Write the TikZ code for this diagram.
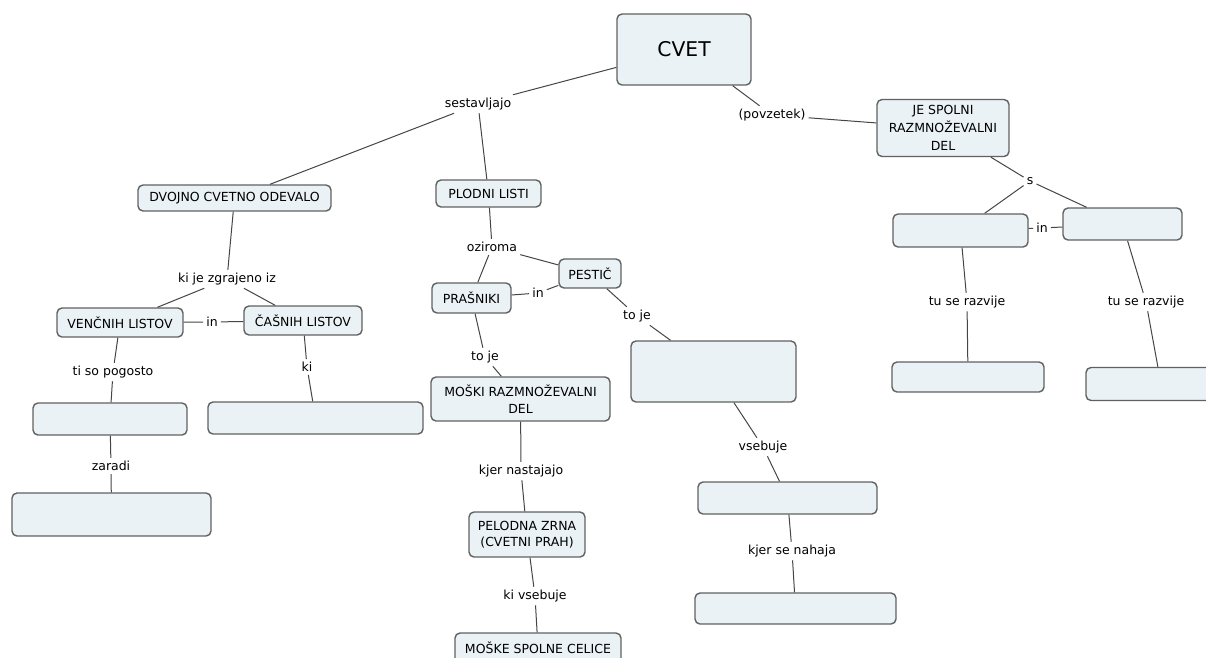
\documentclass[tikz,border=0pt]{standalone}
\usepackage{fontspec}
\setmainfont{DejaVu Sans}
\usepackage{tikz}

\definecolor{boxfill}{HTML}{EAF2F5}
\definecolor{boxline}{HTML}{616161}
\definecolor{linkline}{HTML}{454545}

\begin{document}
\begin{tikzpicture}[x=1pt,y=-1pt,
  concept/.style={draw=boxline,fill=boxfill,rounded corners=5pt,line width=1.4pt,align=center,inner sep=0,
    font=\fontsize{12.5}{16.5}\selectfont},
  link/.style={inner sep=3pt,font=\fontsize{12.5}{15}\selectfont},
  conn/.style={draw=linkline,line width=1pt}]
        \useasboundingbox (0,0) rectangle (1206,657);
        \clip (0,0) rectangle (1206,657);
        % glavni pojem
        \node[concept,minimum width=134pt,minimum height=71pt,font=\fontsize{20.3}{24}\selectfont] (cvet) at (684,49.5) {CVET};
        \node[link] (sestavljajo) at (478,104) {sestavljajo};
        \node[link] (povzetek) at (772,115) {(povzetek)};
        \node[concept,minimum width=132pt,minimum height=57pt,font=\fontsize{12.5}{18}\selectfont] (spolni) at (943,128) {JE SPOLNI\\RAZMNOŽEVALNI\\DEL};
        % desna veja
        \node[link] (s) at (1030,181) {s};
        \node[concept,minimum width=135pt,minimum height=33pt] (r1) at (960.5,230.5) {};
        \node[link] (inr) at (1042,228) {in};
        \node[concept,minimum width=119pt,minimum height=32pt] (r2) at (1122.5,224) {};
        \node[link] (razvije1) at (967,302) {tu se razvije};
        \node[link] (razvije2) at (1146,302) {tu se razvije};
        \node[concept,minimum width=152pt,minimum height=30pt] (r3) at (968,377) {};
        \node[concept,minimum width=150pt,minimum height=33pt] (r4) at (1161,384) {};
        % cvetno odevalo
        \node[concept,minimum width=193pt,minimum height=26pt] (dvojno) at (234.5,198) {DVOJNO CVETNO ODEVALO};
        \node[link] (zgrajeno) at (227,279) {ki je zgrajeno iz};
        \node[concept,minimum width=126pt,minimum height=29pt] (vencni) at (120,322.5) {VENČNIH LISTOV};
        \node[link] (inl) at (212,322) {in};
        \node[concept,minimum width=118pt,minimum height=29pt] (casni) at (303,320.5) {ČAŠNIH LISTOV};
        \node[link] (pogosto) at (113,372) {ti so pogosto};
        \node[link] (ki) at (307,367) {ki};
        \node[concept,minimum width=154pt,minimum height=32pt] (e1) at (110,419) {};
        \node[concept,minimum width=215pt,minimum height=32pt] (e2) at (315.5,418) {};
        \node[link] (zaradi) at (111,466) {zaradi};
        \node[concept,minimum width=199pt,minimum height=43pt] (e3) at (111.5,514.5) {};
        % plodni listi
        \node[concept,minimum width=105pt,minimum height=27pt] (plodni) at (488.5,193.5) {PLODNI LISTI};
        \node[link] (oziroma) at (492,247) {oziroma};
        \node[concept,minimum width=62pt,minimum height=29pt] (pestic) at (590,273.5) {PESTIČ};
        \node[concept,minimum width=79pt,minimum height=30pt] (prasniki) at (471.5,298) {PRAŠNIKI};
        \node[link] (inm) at (538,293) {in};
        \node[link] (toje1) at (637,316) {to je};
        \node[link] (toje2) at (485,357) {to je};
        \node[concept,minimum width=179pt,minimum height=44pt] (moski) at (520.5,399) {MOŠKI RAZMNOŽEVALNI\\DEL};
        \node[concept,minimum width=165pt,minimum height=61pt] (zenski) at (713.5,371.5) {};
        \node[link] (vsebuje) at (763,447) {vsebuje};
        \node[link] (nastajajo) at (521,471) {kjer nastajajo};
        \node[concept,minimum width=116pt,minimum height=45pt] (pelod) at (527,534.5) {PELODNA ZRNA\\(CVETNI PRAH)};
        \node[link] (kivsebuje) at (535,596) {ki vsebuje};
        \node[concept,minimum width=166pt,minimum height=30pt] (celice) at (538,648) {MOŠKE SPOLNE CELICE};
        \node[concept,minimum width=179pt,minimum height=32pt] (v1) at (787.5,498) {};
        \node[link] (nahaja) at (792,551) {kjer se nahaja};
        \node[concept,minimum width=201pt,minimum height=31pt] (v2) at (795.5,608.5) {};

        \draw[conn] (cvet) -- (sestavljajo) (sestavljajo) -- (dvojno) (sestavljajo) -- (plodni);
        \draw[conn] (cvet) -- (povzetek) (povzetek) -- (spolni);
        \draw[conn] (spolni) -- (s) (s) -- (r1) (s) -- (r2) (r1) -- (inr) (inr) -- (r2);
        \draw[conn] (r1) -- (razvije1) (razvije1) -- (r3) (r2) -- (razvije2) (razvije2) -- (r4);
        \draw[conn] (dvojno) -- (zgrajeno) (zgrajeno) -- (vencni) (zgrajeno) -- (casni) (vencni) -- (inl) (inl) -- (casni);
        \draw[conn] (vencni) -- (pogosto) (pogosto) -- (e1) (e1) -- (zaradi) (zaradi) -- (e3) (casni) -- (ki) (ki) -- (e2);
        \draw[conn] (plodni) -- (oziroma) (oziroma) -- (prasniki) (oziroma) -- (pestic) (prasniki) -- (inm) (inm) -- (pestic);
        \draw[conn] (pestic) -- (toje1) (toje1) -- (zenski) (zenski) -- (vsebuje) (vsebuje) -- (v1) (v1) -- (nahaja) (nahaja) -- (v2);
        \draw[conn] (prasniki) -- (toje2) (toje2) -- (moski) (moski) -- (nastajajo) (nastajajo) -- (pelod) (pelod) -- (kivsebuje) (kivsebuje) -- (celice);
      \end{tikzpicture}
\end{document}
